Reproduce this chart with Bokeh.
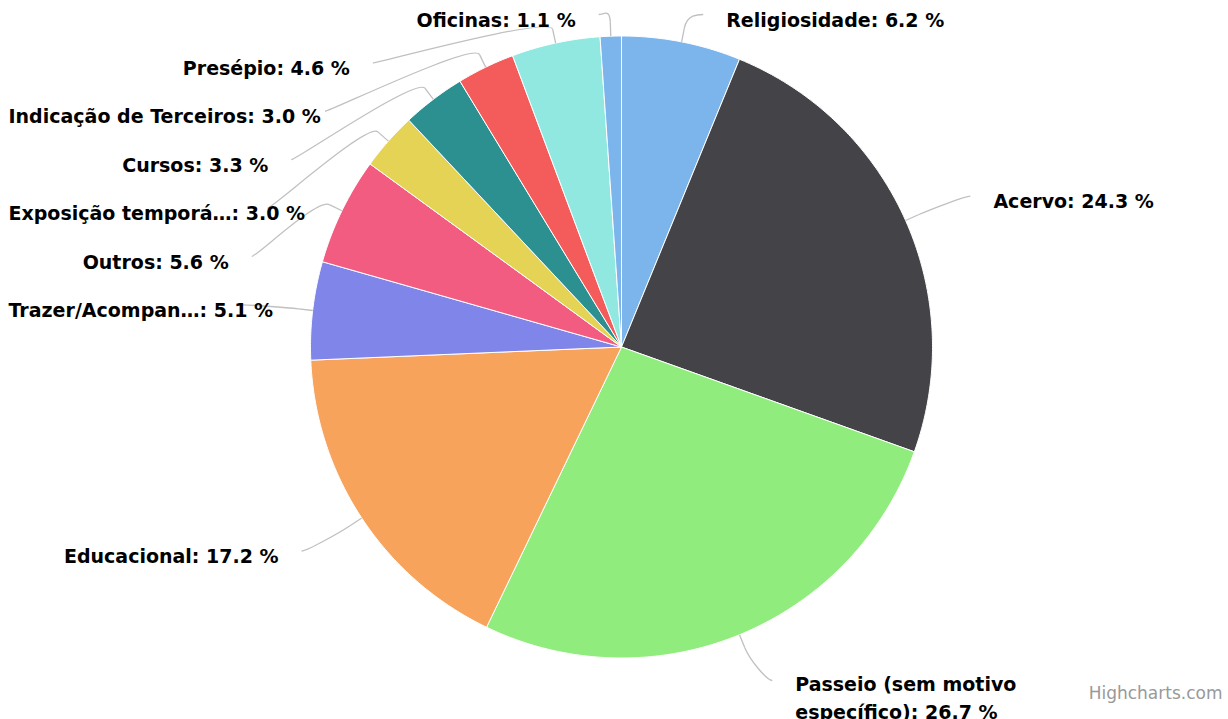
import math
from bokeh.plotting import figure
from bokeh.models import Range1d, ColumnDataSource
from bokeh.core.properties import value
from bokeh.embed import file_html
from bokeh.resources import INLINE

# ---------------- data ----------------
categories = ["Religiosidade", "Acervo", "Passeio (sem motivo específico)", "Educacional",
              "Trazer/Acompan…", "Outros", "Exposição temporá…", "Cursos",
              "Indicação de Terceiros", "Presépio", "Oficinas"]
values = [6.2, 24.3, 26.7, 17.2, 5.1, 5.6, 3.0, 3.3, 3.0, 4.6, 1.1]
colors = ["#7cb5ec", "#434348", "#90ed7d", "#f7a35c", "#8085e9", "#f15c80",
          "#e4d354", "#2b908f", "#f45b5b", "#91e8e1", "#7cb5ec"]
credit_text = "Highcharts.com"

# ---------------- layout / style ----------------
W, H = 1228, 719
CX, CY, R = 621.0, 346.5, 311.0
DIST = 60.0          # label distance
PAD = 10.0           # connector padding
TEXT_GAP = 23.0      # connector end -> text
BREAK = 14.0         # connector break offset
TOP_LIM, BOTTOM_LIM = 14.0, 680.0
SLOT = 48.4
FS = 19
LINE_H = 1.3
MAX_W = 330.0
FONT = "DejaVu Sans"
LEFT_EDGE, RIGHT_EDGE = 8.0, 1215.0

# approximate advance widths (em) of DejaVu Sans Bold
_w = {' ': .348, '%': 1.002, '.': .38, ':': .4, '/': .365, '(': .457, ')': .457, '…': 1.0,
      'a': .675, 'b': .716, 'c': .593, 'd': .716, 'e': .678, 'f': .435, 'g': .716, 'h': .712,
      'i': .343, 'j': .343, 'k': .665, 'l': .343, 'm': 1.042, 'n': .712, 'o': .687, 'p': .716,
      'q': .716, 'r': .493, 's': .595, 't': .478, 'u': .712, 'v': .652, 'w': .924, 'x': .645,
      'y': .652, 'z': .582, 'A': .774, 'C': .734, 'E': .683, 'I': .372, 'O': .85, 'P': .733,
      'R': .77, 'T': .682}
_acc = {'á': 'a', 'ã': 'a', 'ç': 'c', 'é': 'e', 'í': 'i', 'ó': 'o', 'ê': 'e'}


def text_width(s):
    return sum(_w.get(_acc.get(c, c), .696 if c.isdigit() else .7) for c in s) * FS


def wrap(s, avail):
    if text_width(s) <= avail:
        return [s]
    words = s.split(" ")
    lines, cur = [], ""
    for w_ in words:
        cand = (cur + " " + w_).strip()
        if cur and text_width(cand) > avail:
            lines.append(cur)
            cur = w_
        else:
            cur = cand
    lines.append(cur)
    return lines


total = sum(values)
RL = R + DIST

# slices
xs, ys, mids = [], [], []
cum = 0.0
for v in values:
    a0 = cum / total * 360.0
    cum += v
    a1 = cum / total * 360.0
    n = max(4, int((a1 - a0) / 0.5))
    px, py = [CX], [CY]
    for k in range(n + 1):
        a = math.radians(a0 + (a1 - a0) * k / n)
        px.append(CX + R * math.sin(a))
        py.append(CY - R * math.cos(a))
    xs.append(px)
    ys.append(py)
    mids.append((a0 + a1) / 2.0)

# label natural positions
pts = []
for i, (name, v, m) in enumerate(zip(categories, values, mids)):
    a = math.radians(m)
    pts.append(dict(i=i, text=f"{name}: {v:.1f} %", theta=a,
                    side=1 if m < 180 else -1,
                    nx=CX + RL * math.sin(a), ny=CY - RL * math.cos(a)))

# distribute per side
for side in (1, -1):
    grp = sorted([p_ for p_ in pts if p_["side"] == side], key=lambda d: d["ny"])
    prev = None
    for d in grp:
        y = max(d["ny"], TOP_LIM)
        if prev is not None:
            y = max(y, prev + SLOT)
        d["y"] = y
        prev = y
    nxt = None
    for d in reversed(grp):
        y = min(d["y"], BOTTOM_LIM)
        if nxt is not None:
            y = min(y, nxt - SLOT)
        d["y"] = y
        nxt = y


def get_x(y, side):
    s = max(-1.0, min(1.0, (y - CY) / RL))
    return CX + side * math.cos(math.asin(s)) * RL + side * PAD


for d in pts:
    yy = d["ny"] if (d["y"] < CY - R + 2 or d["y"] > CY + R - 2) else d["y"]
    d["x"] = get_x(yy, d["side"])

# connectors
con = dict(x0=[], y0=[], x1=[], y1=[], cx0=[], cy0=[], cx1=[], cy1=[])
seg = dict(x0=[], y0=[], x1=[], y1=[])
for d in pts:
    a = d["theta"]
    tx, ty = CX + R * math.sin(a), CY - R * math.cos(a)
    bx, by = CX + (R + BREAK) * math.sin(a), CY - (R + BREAK) * math.cos(a)
    con["x0"].append(d["x"]); con["y0"].append(d["y"])
    con["cx0"].append(d["x"] - 5 * d["side"]); con["cy0"].append(d["y"])
    con["cx1"].append(2 * bx - tx); con["cy1"].append(2 * by - ty)
    con["x1"].append(bx); con["y1"].append(by)
    seg["x0"].append(bx); seg["y0"].append(by)
    seg["x1"].append(tx); seg["y1"].append(ty)

# label text groups
groups = {"left": dict(x=[], y=[], t=[]), "right": dict(x=[], y=[], t=[])}
for d in pts:
    if d["side"] == 1:
        x0 = d["x"] + TEXT_GAP
        lines = wrap(d["text"], min(MAX_W, RIGHT_EDGE - x0))
        g, xx = "left", x0
    else:
        xe = d["x"] - TEXT_GAP
        lines = wrap(d["text"], MAX_W)
        if xe - text_width(d["text"]) < LEFT_EDGE:
            g, xx = "left", LEFT_EDGE
        else:
            g, xx = "right", xe
    groups[g]["x"].append(xx)
    groups[g]["y"].append(d["y"] + 5 + (len(lines) - 1) * FS * LINE_H / 2)
    groups[g]["t"].append("\n".join(lines))

# ---------------- figure ----------------
p = figure(width=W, height=H, output_backend="svg", toolbar_location=None,
           x_range=Range1d(0, W), y_range=Range1d(H, 0),
           x_axis_type=None, y_axis_type=None, min_border=0,
           background_fill_color="white", border_fill_color="white")
p.outline_line_color = None
p.grid.visible = False

p.patches("xs", "ys", source=ColumnDataSource(dict(xs=xs, ys=ys, color=colors)),
          fill_color="color", line_color="white", line_width=1)

p.bezier(x0="x0", y0="y0", x1="x1", y1="y1", cx0="cx0", cy0="cy0", cx1="cx1", cy1="cy1",
         source=ColumnDataSource(con), line_color="#c0c0c0", line_width=1.3)
p.segment(x0="x0", y0="y0", x1="x1", y1="y1", source=ColumnDataSource(seg),
          line_color="#c0c0c0", line_width=1.3)

for align, g in groups.items():
    if not g["t"]:
        continue
    p.text(x="x", y="y", text="t", source=ColumnDataSource(g),
           text_align=align, text_baseline="middle", text_font=value(FONT),
           text_font_style="bold", text_font_size=f"{FS}px", text_color="#000000",
           text_line_height=LINE_H)

p.text(x=[1222], y=[692], text=[credit_text], text_align="right", text_baseline="middle",
       text_font=value(FONT), text_font_size="17px", text_color="#999999")

open("out.html", "w").write(file_html(p, INLINE))
